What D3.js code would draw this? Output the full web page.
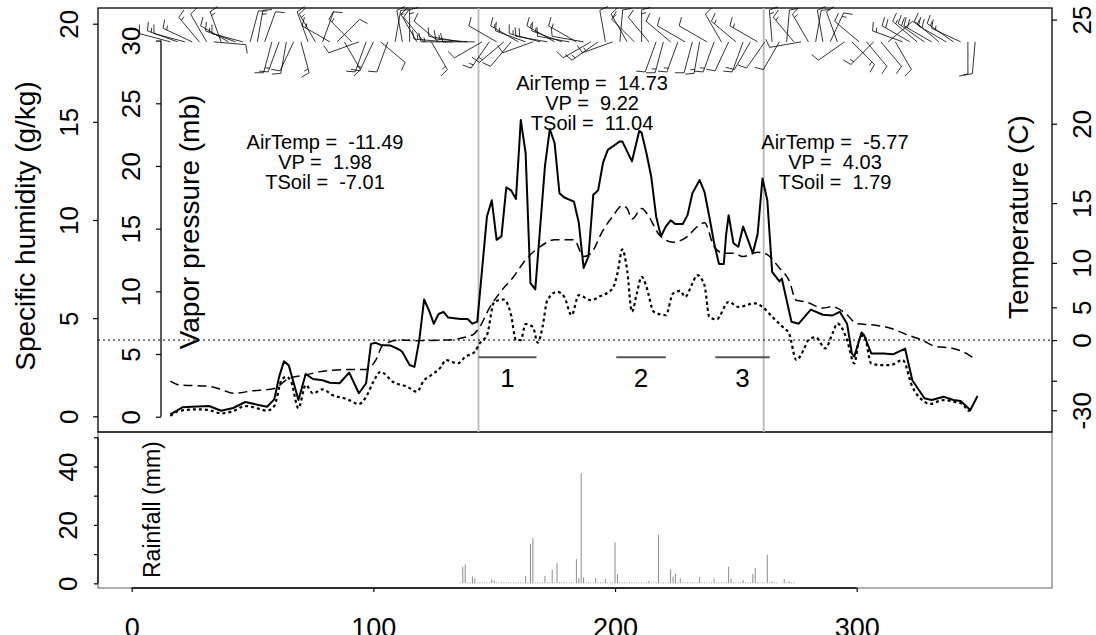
<!DOCTYPE html>
<html>
<head>
<meta charset="utf-8">
<script src="https://cdn.jsdelivr.net/npm/d3@7"></script>
<style>
  html, body { margin: 0; padding: 0; background: #fff; }
  svg { display: block; }
</style>
</head>
<body>
<svg id="chart" width="1096" height="635"></svg>
<script>
// ---------- Data (day of year) ----------
const airDays = [16,21,25,32,37,42,47,52,56,59,61,63,65,69,72,75,79,82,86,90,94,97,99,101,103,107,111,112,115,117,119,121,123,125,127,129,131,136,139,141,143,147,149,151,153,155,157,159,161,163,165,167,171,173,175,177,179,183,185,187,189,191,193,195,197,199,202,203,207,210,211,213,215,217,219,221,223,225,228,230,232,235,237,239,241,243,245,246,247,249,251,253,255,257,259,261,263,265,268,269,273,276,281,286,290,293,296,298,299,302,303,306,311,315,320,323,328,331,336,340,343,347,350];
const airTemp = [-40.0,-25.9,-25.2,-24.4,-30.7,-26.7,-20.8,-23.1,-25.2,-18.9,-8.7,-4.4,-5.4,-19.3,-7.8,-9.4,-9.8,-10.7,-10.9,-7.4,-15.3,-10.9,-0.7,-0.5,-0.9,-1.0,-1.9,-2.3,-5.3,-5.8,0.0,6.0,4.6,2.7,4.1,4.4,3.6,3.4,3.4,2.7,3.0,14.0,15.2,12.1,12.4,16.1,15.9,15.3,20.2,18.3,7.9,7.2,17.5,19.7,18.9,15.7,15.4,15.1,13.5,9.5,10.6,15.6,15.9,17.7,18.5,18.7,19.0,19.0,17.8,19.6,19.5,18.3,16.8,14.0,12.4,13.2,13.7,13.4,13.4,14.1,15.7,16.6,15.8,14.0,11.8,9.9,9.9,12.6,14.1,11.8,11.5,13.2,12.1,10.9,12.6,16.7,15.2,9.1,8.1,8.4,3.0,2.7,4.7,4.0,3.9,4.4,2.7,-2.6,-3.3,1.3,0.9,-2.6,-2.6,-2.8,-1.6,-9.8,-18.2,-19.3,-17.2,-19.3,-20.1,-29.5,-16.8];

const soilDays = [16,20,31,37,42,50,59,65,72,78,83,90,97,101,104,111,117,130,141,144,148,152,158,163,169,175,183,187,190,195,199,203,205,207,211,214,218,224,230,234,237,241,245,249,253,259,262,268,272,275,279,286,290,292,296,300,307,314,321,327,332,340,346,348];
const soilTemp = [-10.1,-11.6,-12.0,-13.4,-15.3,-14.1,-13.0,-9.2,-8.1,-7.1,-6.7,-6.5,-6.5,-4.1,-0.9,0.0,-0.1,0.0,0.9,2.2,4.9,6.7,8.6,10.3,11.5,12.1,12.1,10.6,10.9,12.9,14.0,14.8,14.6,13.8,14.6,14.0,12.6,11.9,12.4,13.2,13.5,11.5,10.9,10.9,10.6,11.0,10.9,9.5,8.2,5.9,5.7,4.9,5.1,4.9,4.0,2.7,2.5,2.0,0.9,0.0,-1.1,-1.6,-2.8,-3.5];

const vpDays = [16,20,28,32,37,42,47,52,56,59,62,64,66,69,72,75,79,83,89,94,97,100,103,108,114,118,121,123,128,130,135,138,142,144,147,150,154,157,159,161,163,166,168,170,172,176,179,182,185,190,194,199,201,203,205,207,209,211,213,216,221,224,227,229,232,234,237,239,242,247,251,258,261,265,270,272,275,278,280,283,287,290,292,294,296,299,301,303,306,310,314,319,323,328,330,336,340,344,346,348];
const vapourPressure = [0.06,0.48,0.59,0.53,0.27,0.45,0.85,0.67,0.48,0.85,2.92,3.19,2.79,0.67,2.53,1.86,2.18,1.73,1.41,1.01,1.59,2.79,3.59,2.79,2.39,1.99,2.92,3.19,3.98,4.52,4.25,4.78,5.18,5.85,6.51,9.16,9.35,8.10,6.11,6.11,7.39,7.17,5.90,7.17,9.30,9.96,9.56,8.10,9.70,9.30,9.62,10.23,11.43,13.34,11.69,8.37,9.83,11.16,10.36,8.37,8.10,9.83,10.04,9.56,10.63,11.29,10.49,7.97,7.76,9.16,8.76,9.04,8.76,7.97,7.04,6.65,4.52,5.31,6.11,6.33,5.45,6.65,7.44,7.04,6.11,4.25,6.11,6.51,4.25,4.12,4.12,4.52,2.39,1.20,1.01,1.33,1.20,1.01,0.48,0.53];

// daily rainfall (mm) from rainStartDay onward
const rainStartDay = 136;
const rainfall = [
  0.3,5.7,6.5,0.3,0.3,2.3,1.7,0.3,0.3,0.3,
  0.3,0.3,0.3,1.4,0.9,0.3,0.3,0.3,0.3,0.3,
  0.3,0.3,0.3,0.3,0.3,0.3,0.3,2.5,0.3,13.5,
  15.5,0.3,0.3,0.3,0.3,2.5,0.3,0.3,4.6,0.3,
  6.9,0.3,0.3,0.3,0.3,0.3,0.3,0.3,8.3,1.7,
  37.7,2.1,0.3,0.3,0.3,0.3,1.8,0.3,0.3,0.3,
  1.4,0.3,0.3,0.3,14.0,3.2,0.3,0.3,0.3,0.3,
  0.3,0.3,0.3,0.3,0.3,0.3,0.3,0.3,0.8,0.3,
  0.3,0.3,16.7,0.3,0.3,0.3,0.3,4.8,2.3,3.2,
  0.3,1.7,0.3,0.3,0.3,0.3,0.3,0.3,0.3,2.1,
  0.3,0.3,0.3,0.3,0.3,1.6,0.3,0.3,0.3,0.3,
  0.3,5.7,1.6,0.3,0.3,0.3,0.3,1.1,0.3,0.3,
  0.3,3.2,5.2,0.3,0.3,0.3,0.3,9.8,0.3,0.6,
  0.3,0.3,0.0,0.2,1.5,0.3,0.7,0.3,0.3
];

// wind: direction the wind blows from (deg) and speed (m/s)
const windDays = [16,19,22,25,28,31,34,37,40,43,46,49,52,55,58,61,64,67,70,73,76,79,82,85,88,91,94,97,100,103,106,109,112,115,118,121,124,127,130,133,136,139,142,145,148,151,154,157,160,163,166,169,172,175,178,181,184,187,190,193,196,199,202,205,208,211,214,217,220,223,226,229,232,235,238,241,244,247,250,253,256,259,262,265,268,271,274,277,280,283,286,289,292,295,298,301,304,307,310,313,316,319,322,325,328,331,334,337,340,343,346,349];
const windDir = [285,290,285,295,320,330,95,340,300,290, 285,15,10,20,195,200,190,205,165,340, 330,20,300,45,150,315,250,200,205,130, 200,10,350,0,330,320,150,310,275,270, 280,275,270,240,215,300,230,220,300,290, 250,285,280,300,290,280,300,280,240,235, 350,250,5,330,315,0,320,200,195,310, 200,300,195,190,300,200,330,205,310,200, 210,300,215,355,210,5,320,260,330,10, 350,25,340,235,135,310,140,225,140,50, 150,290,300,310,305,300,310,300,305,295, 180,185];
const windSpeed = [10,15,10,15,15,10,10,15,10,15, 10,10,15,10,10,15,10,10,15,10, 15,10,15,10,10,15,10,10,15,10, 10,15,10,15,10,10,15,10,15,15, 10,15,10,10,15,10,15,10,15,15, 10,15,20,15,15,10,15,10,10,15, 10,15,10,15,10,15,10,10,15,10, 15,10,10,15,10,15,10,10,15,10, 10,15,10,15,10,10,15,10,15,10, 10,15,10,10,15,10,10,15,10,10, 10,15,20,15,20,20,15,20,15,15, 10,10];

// seasons and sub-periods
const seasonBounds = [143.5, 261.5];
const periodNames = ["1", "2", "3"];
const periodStart = [143.5, 200.5, 241.5];
const periodEnd = [167.5, 221, 264];

// period means
const meanAirTemp = [-11.49, 14.73, -5.77];
const meanVP = [1.98, 9.22, 4.03];
const meanTSoil = [-7.01, 11.04, 1.79];

// axis ticks
const dayTicks = [0, 100, 200, 300];
const qTicks = [0, 5, 10, 15, 20];
const vpTicks = [0, 5, 10, 15, 20, 25, 30];
const tempTicks = [-30, -10, 0, 5, 10, 15, 20, 25];
const tempTickLabels = ["-30", "", "0", "5", "10", "15", "20", "25"];
const rainTicks = [0, 10, 20, 30, 40, 50];
const rainTickLabels = ["0", "", "20", "", "40", ""];

// ---------- Layout ----------
const FONT = '"Liberation Sans", Arial, Helvetica, sans-serif';
const box = { left: 98, right: 1052, top: 8, mid: 432, bottom: 588 };
const vpAxisX = 161;

// saturation vapour pressure (mb) over water, Magnus form
const satVP = t => 6.112 * Math.exp(17.67 * t / (t + 243.5));

const x = d3.scaleLinear().domain([-13.94, 380.8]).range([box.left, box.right]);
const yVP = d3.scaleLinear().domain([-1.22, 32.6]).range([box.mid, box.top]);
const yQ = d3.scaleLinear().domain([-0.8, 20.8]).range([box.mid, box.top]);
const yRain = d3.scaleLinear().domain([-1.6, 51.8]).range([box.bottom, box.mid]);
const yTemp = t => yVP(satVP(t));

const svg = d3.select("#chart").attr("font-family", FONT);
svg.append("rect").attr("width", 1096).attr("height", 635).attr("fill", "#fff");

// ---------- Frames ----------
svg.append("rect")
  .attr("x", box.left).attr("y", box.mid)
  .attr("width", box.right - box.left).attr("height", box.bottom - box.mid)
  .attr("fill", "none").attr("stroke", "#777").attr("stroke-width", 1.2);
svg.append("rect")
  .attr("x", box.left).attr("y", box.top)
  .attr("width", box.right - box.left).attr("height", box.mid - box.top)
  .attr("fill", "none").attr("stroke", "#000").attr("stroke-width", 1.3);

// season boundaries
svg.append("g").selectAll("line").data(seasonBounds).join("line")
  .attr("x1", d => x(d)).attr("x2", d => x(d))
  .attr("y1", box.top).attr("y2", box.mid)
  .attr("stroke", "#b8b8b8").attr("stroke-width", 1.8);

// freezing level (0 C)
svg.append("line")
  .attr("x1", box.left).attr("x2", box.right)
  .attr("y1", yTemp(0)).attr("y2", yTemp(0))
  .attr("stroke", "#000").attr("stroke-width", 1).attr("stroke-dasharray", "2,3");

// ---------- Series ----------
const air = airDays.map((d, i) => ({ day: d, v: airTemp[i] }));
const soil = soilDays.map((d, i) => ({ day: d, v: soilTemp[i] }));
const vp = vpDays.map((d, i) => ({ day: d, v: vapourPressure[i] }));

svg.append("path").datum(soil)
  .attr("d", d3.line().x(d => x(d.day)).y(d => yTemp(d.v)).curve(d3.curveMonotoneX))
  .attr("fill", "none").attr("stroke", "#000").attr("stroke-width", 1.5)
  .attr("stroke-dasharray", "9,5");

svg.append("path").datum(vp)
  .attr("d", d3.line().x(d => x(d.day)).y(d => yVP(d.v)).curve(d3.curveMonotoneX))
  .attr("fill", "none").attr("stroke", "#000").attr("stroke-width", 2.2)
  .attr("stroke-dasharray", "3,3");

svg.append("path").datum(air)
  .attr("d", d3.line().x(d => x(d.day)).y(d => yTemp(d.v)))
  .attr("fill", "none").attr("stroke", "#000").attr("stroke-width", 2)
  .attr("stroke-linejoin", "round");

// ---------- Wind barbs ----------
// staff points toward the direction the wind comes from; a full feather per 10 m/s, half per 5
const barbBaseVP = 29.9, staffLen = 32, featherLen = 9, featherGap = 4;
const barbPath = d3.path();
const nWind = Math.min(windDays.length, windDir.length, windSpeed.length);
for (let i = 0; i < nWind; i++) {
  const bx = x(windDays[i]), by = yVP(barbBaseVP);
  const th = windDir[i] * Math.PI / 180;
  const ux = Math.sin(th), uy = -Math.cos(th);
  const tx = bx + staffLen * ux, ty = by + staffLen * uy;
  barbPath.moveTo(bx, by); barbPath.lineTo(tx, ty);
  const a = 75 * Math.PI / 180;
  const fx = ux * Math.cos(a) - uy * Math.sin(a);
  const fy = ux * Math.sin(a) + uy * Math.cos(a);
  const full = Math.floor(windSpeed[i] / 10);
  const half = (windSpeed[i] % 10) >= 5 ? 1 : 0;
  let k = 0;
  for (; k < full; k++) {
    const px = tx - k * featherGap * ux, py = ty - k * featherGap * uy;
    barbPath.moveTo(px, py); barbPath.lineTo(px + featherLen * fx, py + featherLen * fy);
  }
  if (half) {
    const px = tx - k * featherGap * ux, py = ty - k * featherGap * uy;
    barbPath.moveTo(px, py); barbPath.lineTo(px + featherLen * 0.5 * fx, py + featherLen * 0.5 * fy);
  }
}
svg.append("path").attr("d", barbPath.toString())
  .attr("fill", "none").attr("stroke", "#000").attr("stroke-width", 0.8);

// ---------- Period markers ----------
const yPeriodBar = yVP(4.74), yPeriodLabel = yVP(2.37);
const gp = svg.append("g");
gp.selectAll("line").data(periodNames).join("line")
  .attr("x1", (d, i) => x(periodStart[i])).attr("x2", (d, i) => x(periodEnd[i]))
  .attr("y1", yPeriodBar).attr("y2", yPeriodBar)
  .attr("stroke", "#555").attr("stroke-width", 2);
gp.selectAll("text").data(periodNames).join("text")
  .attr("x", (d, i) => x((periodStart[i] + periodEnd[i]) / 2))
  .attr("y", yPeriodLabel)
  .attr("text-anchor", "middle").attr("font-size", 26).text(d => d);

// ---------- Period summaries ----------
const notePlace = [{ day: 80, vp: 19.75 }, { day: 190.5, vp: 24.45 }, { day: 291, vp: 19.75 }];
const fmt = v => v.toFixed(2);
notePlace.forEach((p, i) => {
  const lines = [
    "AirTemp =  " + fmt(meanAirTemp[i]),
    "VP =  " + fmt(meanVP[i]),
    "TSoil =  " + fmt(meanTSoil[i])
  ];
  svg.append("g").selectAll("text").data(lines).join("text")
    .attr("x", x(p.day)).attr("y", (d, k) => yVP(p.vp) + (k - 1) * 20)
    .attr("text-anchor", "middle").attr("font-size", 20)
    .style("white-space", "pre").text(d => d);
});

// ---------- Rainfall ----------
const rainG = svg.append("g");
rainfall.forEach((v, i) => {
  if (v <= 0) return;
  rainG.append("line")
    .attr("x1", x(rainStartDay + i)).attr("x2", x(rainStartDay + i))
    .attr("y1", yRain(0)).attr("y2", yRain(v))
    .attr("stroke", "#8c8c8c").attr("stroke-width", 1);
});

// ---------- Axes ----------
function styleAxis(g, size) {
  g.select(".domain").remove();
  g.attr("font-family", FONT);
  g.selectAll(".tick line").attr("stroke", "#000").attr("stroke-width", 1.2);
  g.selectAll(".tick text").attr("font-size", size).attr("fill", "#000");
}
function rotateLabels(g, offset) {
  g.selectAll(".tick text")
    .attr("transform", "rotate(-90)")
    .attr("x", 0).attr("y", offset).attr("dy", null)
    .attr("text-anchor", "middle");
}

// specific humidity (outer left)
const gQ = svg.append("g").attr("transform", `translate(${box.left},0)`)
  .call(d3.axisLeft(yQ).tickValues(qTicks).tickSize(5).tickFormat(d3.format("d")));
styleAxis(gQ, 26); rotateLabels(gQ, -20);

// vapour pressure (inner left)
svg.append("line").attr("x1", vpAxisX).attr("x2", vpAxisX)
  .attr("y1", yVP(0)).attr("y2", yVP(30)).attr("stroke", "#000").attr("stroke-width", 1.3);
const gVP = svg.append("g").attr("transform", `translate(${vpAxisX},0)`)
  .call(d3.axisLeft(yVP).tickValues(vpTicks).tickSize(5).tickFormat(d3.format("d")));
styleAxis(gVP, 26); rotateLabels(gVP, -21);

// temperature (right, on saturation vapour pressure scale)
const gT = svg.append("g").attr("transform", `translate(${box.right},0)`)
  .call(d3.axisRight(yVP).tickValues(tempTicks.map(satVP)).tickSize(5)
    .tickFormat((d, i) => tempTickLabels[i]));
styleAxis(gT, 26); rotateLabels(gT, 39);

// rainfall
svg.append("line").attr("x1", box.left).attr("x2", box.left)
  .attr("y1", yRain(0)).attr("y2", yRain(50)).attr("stroke", "#000").attr("stroke-width", 1.3);
const gR = svg.append("g").attr("transform", `translate(${box.left},0)`)
  .call(d3.axisLeft(yRain).tickValues(rainTicks).tickSize(4)
    .tickFormat((d, i) => rainTickLabels[i]));
styleAxis(gR, 26); rotateLabels(gR, -21);

// day of year
svg.append("line").attr("x1", x(0)).attr("x2", x(300))
  .attr("y1", box.bottom).attr("y2", box.bottom).attr("stroke", "#000").attr("stroke-width", 1.6);
const gX = svg.append("g").attr("transform", `translate(0,${box.bottom})`)
  .call(d3.axisBottom(x).tickValues(dayTicks).tickSize(4).tickFormat(d3.format("d")));
styleAxis(gX, 27);
gX.selectAll(".tick text").attr("y", 49).attr("dy", null);

// ---------- Titles ----------
function vTitle(text, tx, ty, size, anchor) {
  svg.append("text")
    .attr("transform", `translate(${tx},${ty}) rotate(-90)`)
    .attr("text-anchor", anchor || "middle")
    .attr("font-size", size).text(text);
}
vTitle("Specific humidity (g/kg)", 35, 226, 28);
vTitle("Vapor pressure (mb)", 199, 222, 28);
vTitle("Temperature (C)", 1028, 217, 28);
vTitle("Rainfall (mm)", 160, 578, 23, "start");
</script>
</body>
</html>
